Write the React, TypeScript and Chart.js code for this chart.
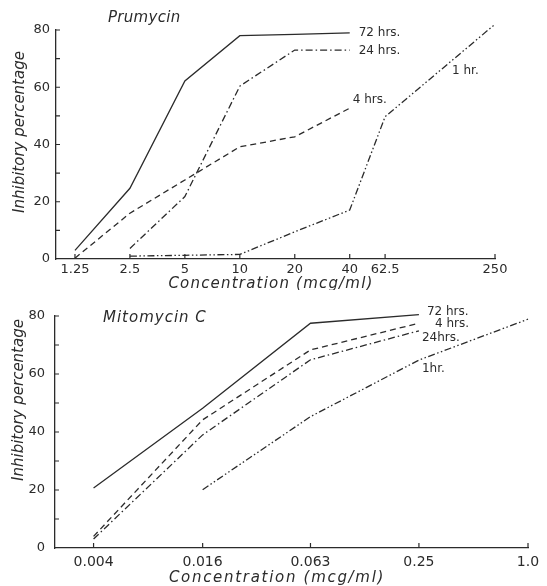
import React, { useEffect, useRef } from 'react';
import { Chart, registerables } from 'chart.js';

Chart.register(...registerables);

// ---------------- Prumycin (upper panel) ----------------
const prumycinTickValues = [1.25, 2.5, 5, 10, 20, 40, 62.5, 250];
const prumycinTickLabels = ['1.25', '2.5', '5', '10', '20', '40', '62.5', '250'];

const prumycin72hX = [1.25, 2.5, 5, 10, 20, 40];
const prumycin72hY = [3, 24.7, 62.2, 78, 78.5, 79];
const prumycin24hX = [2.5, 5, 10, 20, 40];
const prumycin24hY = [3.7, 21.8, 60.4, 73, 73];
const prumycin4hX = [1.25, 2.5, 5, 10, 20, 40];
const prumycin4hY = [0.3, 16, 27.6, 39.2, 42.7, 52.7];
const prumycin1hX = [2.5, 5, 10, 20, 40, 62.5, 250];
const prumycin1hY = [1, 1.3, 1.6, 9.5, 17.1, 49.7, 82];

// ---------------- Mitomycin C (lower panel) ----------------
const mitoTickValues = [0.004, 0.016, 0.063, 0.25, 1.0];
const mitoTickLabels = ['0.004', '0.016', '0.063', '0.25', '1.0'];

const mito72hX = [0.004, 0.016, 0.063, 0.25];
const mito72hY = [20.7, 48.2, 77.5, 80.5];
const mito4hX = [0.004, 0.016, 0.063, 0.25];
const mito4hY = [4, 44.2, 68.3, 77.5];
const mito24hX = [0.004, 0.016, 0.063, 0.25];
const mito24hY = [3.1, 39, 64.9, 74.9];
const mito1hX = [0.016, 0.063, 0.25, 1.0];
const mito1hY = [20.1, 45.3, 64.8, 78.9];

// ---------------- shared y axis ----------------
const yTickValues = [0, 10, 20, 30, 40, 50, 60, 70, 80];
const yLabelledValues = [0, 20, 40, 60, 80];

// ---------------- styles ----------------
const INK = '#2b2b2b';
const FONT = "'DejaVu Sans', sans-serif";
const DASH: Record<string, number[]> = {
  h72: [],
  h24: [7, 3, 1.5, 3],
  h4: [6, 4],
  h1: [7, 2.5, 1.5, 2.5, 1.5, 2.5],
};

type Series = { key: string; label: string; xs: number[]; ys: number[] };
type Placement = { at: number; dx: number; dy: number };

const prumycinSeries: Series[] = [
  { key: 'h72', label: '72 hrs.', xs: prumycin72hX, ys: prumycin72hY },
  { key: 'h24', label: '24 hrs.', xs: prumycin24hX, ys: prumycin24hY },
  { key: 'h4', label: '4 hrs.', xs: prumycin4hX, ys: prumycin4hY },
  { key: 'h1', label: '1 hr.', xs: prumycin1hX, ys: prumycin1hY },
];
const prumycinPlacement: Record<string, Placement> = {
  h72: { at: 5, dx: 9, dy: 0 },
  h24: { at: 4, dx: 9, dy: 1 },
  h4: { at: 5, dx: 3, dy: -8 },
  h1: { at: 6, dx: -43, dy: 47 },
};

const mitoSeries: Series[] = [
  { key: 'h72', label: '72 hrs.', xs: mito72hX, ys: mito72hY },
  { key: 'h4', label: '4 hrs.', xs: mito4hX, ys: mito4hY },
  { key: 'h24', label: '24hrs.', xs: mito24hX, ys: mito24hY },
  { key: 'h1', label: '1hr.', xs: mito1hX, ys: mito1hY },
];
const mitoPlacement: Record<string, Placement> = {
  h72: { at: 3, dx: 8, dy: -3 },
  h4: { at: 3, dx: 16, dy: 1 },
  h24: { at: 3, dx: 3, dy: 7 },
  h1: { at: 2, dx: 3, dy: 9 },
};

type PanelSpec = {
  height: number;
  series: Series[];
  placement: Record<string, Placement>;
  xTickValues: number[];
  xTickLabels: string[];
  xMin: number;
  xMax: number;
  padding: { top: number; right: number; left: number; bottom: number };
  yAxisWidth: number;
  xAxisHeight: number;
  yLabelPad: number;
  xLabelPad: number;
  xTickFont: number;
  title: string;
  titlePos: [number, number];
  titleSpacing: number;
  xTitlePos: [number, number];
  xTitleSpacing: number;
  yTitlePos: [number, number];
  yTitleSpacing: number;
};

function drawText(
  ctx: CanvasRenderingContext2D,
  str: string,
  x: number,
  y: number,
  font: string,
  spacing: number,
  align: CanvasTextAlign,
  rotate = 0
) {
  ctx.save();
  ctx.font = font;
  ctx.fillStyle = INK;
  ctx.textBaseline = 'middle';
  ctx.textAlign = align;
  (ctx as any).letterSpacing = spacing + 'px';
  ctx.translate(x, y);
  if (rotate) ctx.rotate(rotate);
  ctx.fillText(str, 0, 0);
  ctx.restore();
}

function makeDecor(spec: PanelSpec) {
  return {
    id: 'decor',
    beforeDraw(chart: any) {
      (chart.ctx as any).letterSpacing = '0px';
    },
    afterDraw(chart: any) {
      const { ctx, chartArea, scales } = chart;
      const xs = scales.x;
      const ys = scales.y;
      // inward tick marks
      ctx.save();
      ctx.strokeStyle = INK;
      ctx.lineWidth = 1.2;
      ctx.beginPath();
      xs.ticks.forEach((t: any) => {
        const px = xs.getPixelForValue(t.value);
        ctx.moveTo(px, chartArea.bottom);
        ctx.lineTo(px, chartArea.bottom - 5);
      });
      ys.ticks.forEach((t: any) => {
        if (t.value === 0) return;
        const py = ys.getPixelForValue(t.value);
        ctx.moveTo(chartArea.left, py);
        ctx.lineTo(chartArea.left + 4, py);
      });
      ctx.stroke();
      ctx.restore();

      // panel title and axis titles
      drawText(ctx, spec.title, spec.titlePos[0], spec.titlePos[1], `italic 15px ${FONT}`, spec.titleSpacing, 'left');
      drawText(ctx, 'Concentration (mcg/ml)', spec.xTitlePos[0], spec.xTitlePos[1], `italic 15px ${FONT}`, spec.xTitleSpacing, 'center');
      drawText(ctx, 'Inhibitory percentage', spec.yTitlePos[0], spec.yTitlePos[1], `italic 15px ${FONT}`, spec.yTitleSpacing, 'center', -Math.PI / 2);

      // series labels
      spec.series.forEach((s) => {
        const p = spec.placement[s.key];
        const px = xs.getPixelForValue(s.xs[p.at]) + p.dx;
        const py = ys.getPixelForValue(s.ys[p.at]) + p.dy;
        drawText(ctx, s.label, px, py, `12px ${FONT}`, 0, 'left');
      });
    },
  };
}

function buildConfig(spec: PanelSpec): any {
  return {
    type: 'line',
    data: {
      datasets: spec.series.map((s) => ({
        label: s.label,
        data: s.xs.map((x, i) => ({ x, y: s.ys[i] })),
        borderColor: INK,
        borderWidth: 1.3,
        borderDash: DASH[s.key],
        pointRadius: 0,
        tension: 0,
        fill: false,
        clip: false,
      })),
    },
    options: {
      animation: false,
      responsive: false,
      devicePixelRatio: 1,
      events: [],
      layout: { padding: spec.padding },
      plugins: {
        legend: { display: false },
        tooltip: { enabled: false },
        title: { display: false },
      },
      scales: {
        x: {
          type: 'logarithmic',
          min: spec.xMin,
          max: spec.xMax,
          afterBuildTicks: (scale: any) => {
            scale.ticks = spec.xTickValues.map((v) => ({ value: v }));
          },
          afterFit: (scale: any) => {
            scale.height = spec.xAxisHeight;
          },
          ticks: {
            autoSkip: false,
            maxRotation: 0,
            color: INK,
            padding: spec.xLabelPad,
            font: { family: FONT, size: spec.xTickFont },
            callback: (v: number) => {
              const i = spec.xTickValues.findIndex((t) => Math.abs(t - v) < 1e-9);
              return i >= 0 ? spec.xTickLabels[i] : '';
            },
          },
          grid: { display: false, drawTicks: false },
          border: { display: true, color: INK, width: 1.3 },
        },
        y: {
          type: 'linear',
          min: 0,
          max: 80,
          afterBuildTicks: (scale: any) => {
            scale.ticks = yTickValues.map((v) => ({ value: v }));
          },
          afterFit: (scale: any) => {
            scale.width = spec.yAxisWidth;
          },
          ticks: {
            autoSkip: false,
            color: INK,
            padding: spec.yLabelPad,
            font: { family: FONT, size: 13 },
            callback: (v: number) => (yLabelledValues.includes(v) ? String(v) : ''),
          },
          grid: { display: false, drawTicks: false },
          border: { display: true, color: INK, width: 1.3 },
        },
      },
    },
    plugins: [makeDecor(spec)],
  };
}

const topSpec: PanelSpec = {
  height: 290,
  series: prumycinSeries,
  placement: prumycinPlacement,
  xTickValues: prumycinTickValues,
  xTickLabels: prumycinTickLabels,
  xMin: 0.984,
  xMax: 250,
  padding: { top: 30, right: 52, left: 0, bottom: 0 },
  yAxisWidth: 56,
  xAxisHeight: 31,
  yLabelPad: 6,
  xLabelPad: 3,
  xTickFont: 13,
  title: 'Prumycin',
  titlePos: [108, 18],
  titleSpacing: 0.3,
  xTitlePos: [271, 284],
  xTitleSpacing: 1.2,
  yTitlePos: [20, 132],
  yTitleSpacing: 0,
};

const bottomSpec: PanelSpec = {
  height: 296,
  series: mitoSeries,
  placement: mitoPlacement,
  xTickValues: mitoTickValues,
  xTickLabels: mitoTickLabels,
  xMin: 0.00245,
  xMax: 1.0,
  padding: { top: 26, right: 19, left: 0, bottom: 0 },
  yAxisWidth: 55,
  xAxisHeight: 38,
  yLabelPad: 10,
  xLabelPad: 6,
  xTickFont: 14,
  title: 'Mitomycin C',
  titlePos: [103, 28],
  titleSpacing: 1,
  xTitlePos: [277, 288],
  xTitleSpacing: 1.7,
  yTitlePos: [19, 110],
  yTitleSpacing: 0,
};

function Panel({ spec, top }: { spec: PanelSpec; top: number }) {
  const ref = useRef<HTMLCanvasElement>(null);
  useEffect(() => {
    const chart = new Chart(ref.current as HTMLCanvasElement, buildConfig(spec));
    return () => chart.destroy();
  }, []);
  return (
    <canvas
      ref={ref}
      width={547}
      height={spec.height}
      style={{ position: 'absolute', left: 0, top, width: 547, height: spec.height, display: 'block' }}
    />
  );
}

export default function App() {
  return (
    <div
      style={{
        position: 'fixed',
        left: 0,
        top: 0,
        width: 547,
        height: 586,
        background: '#ffffff',
        overflow: 'hidden',
      }}
    >
      <Panel spec={topSpec} top={0} />
      <Panel spec={bottomSpec} top={290} />
    </div>
  );
}
